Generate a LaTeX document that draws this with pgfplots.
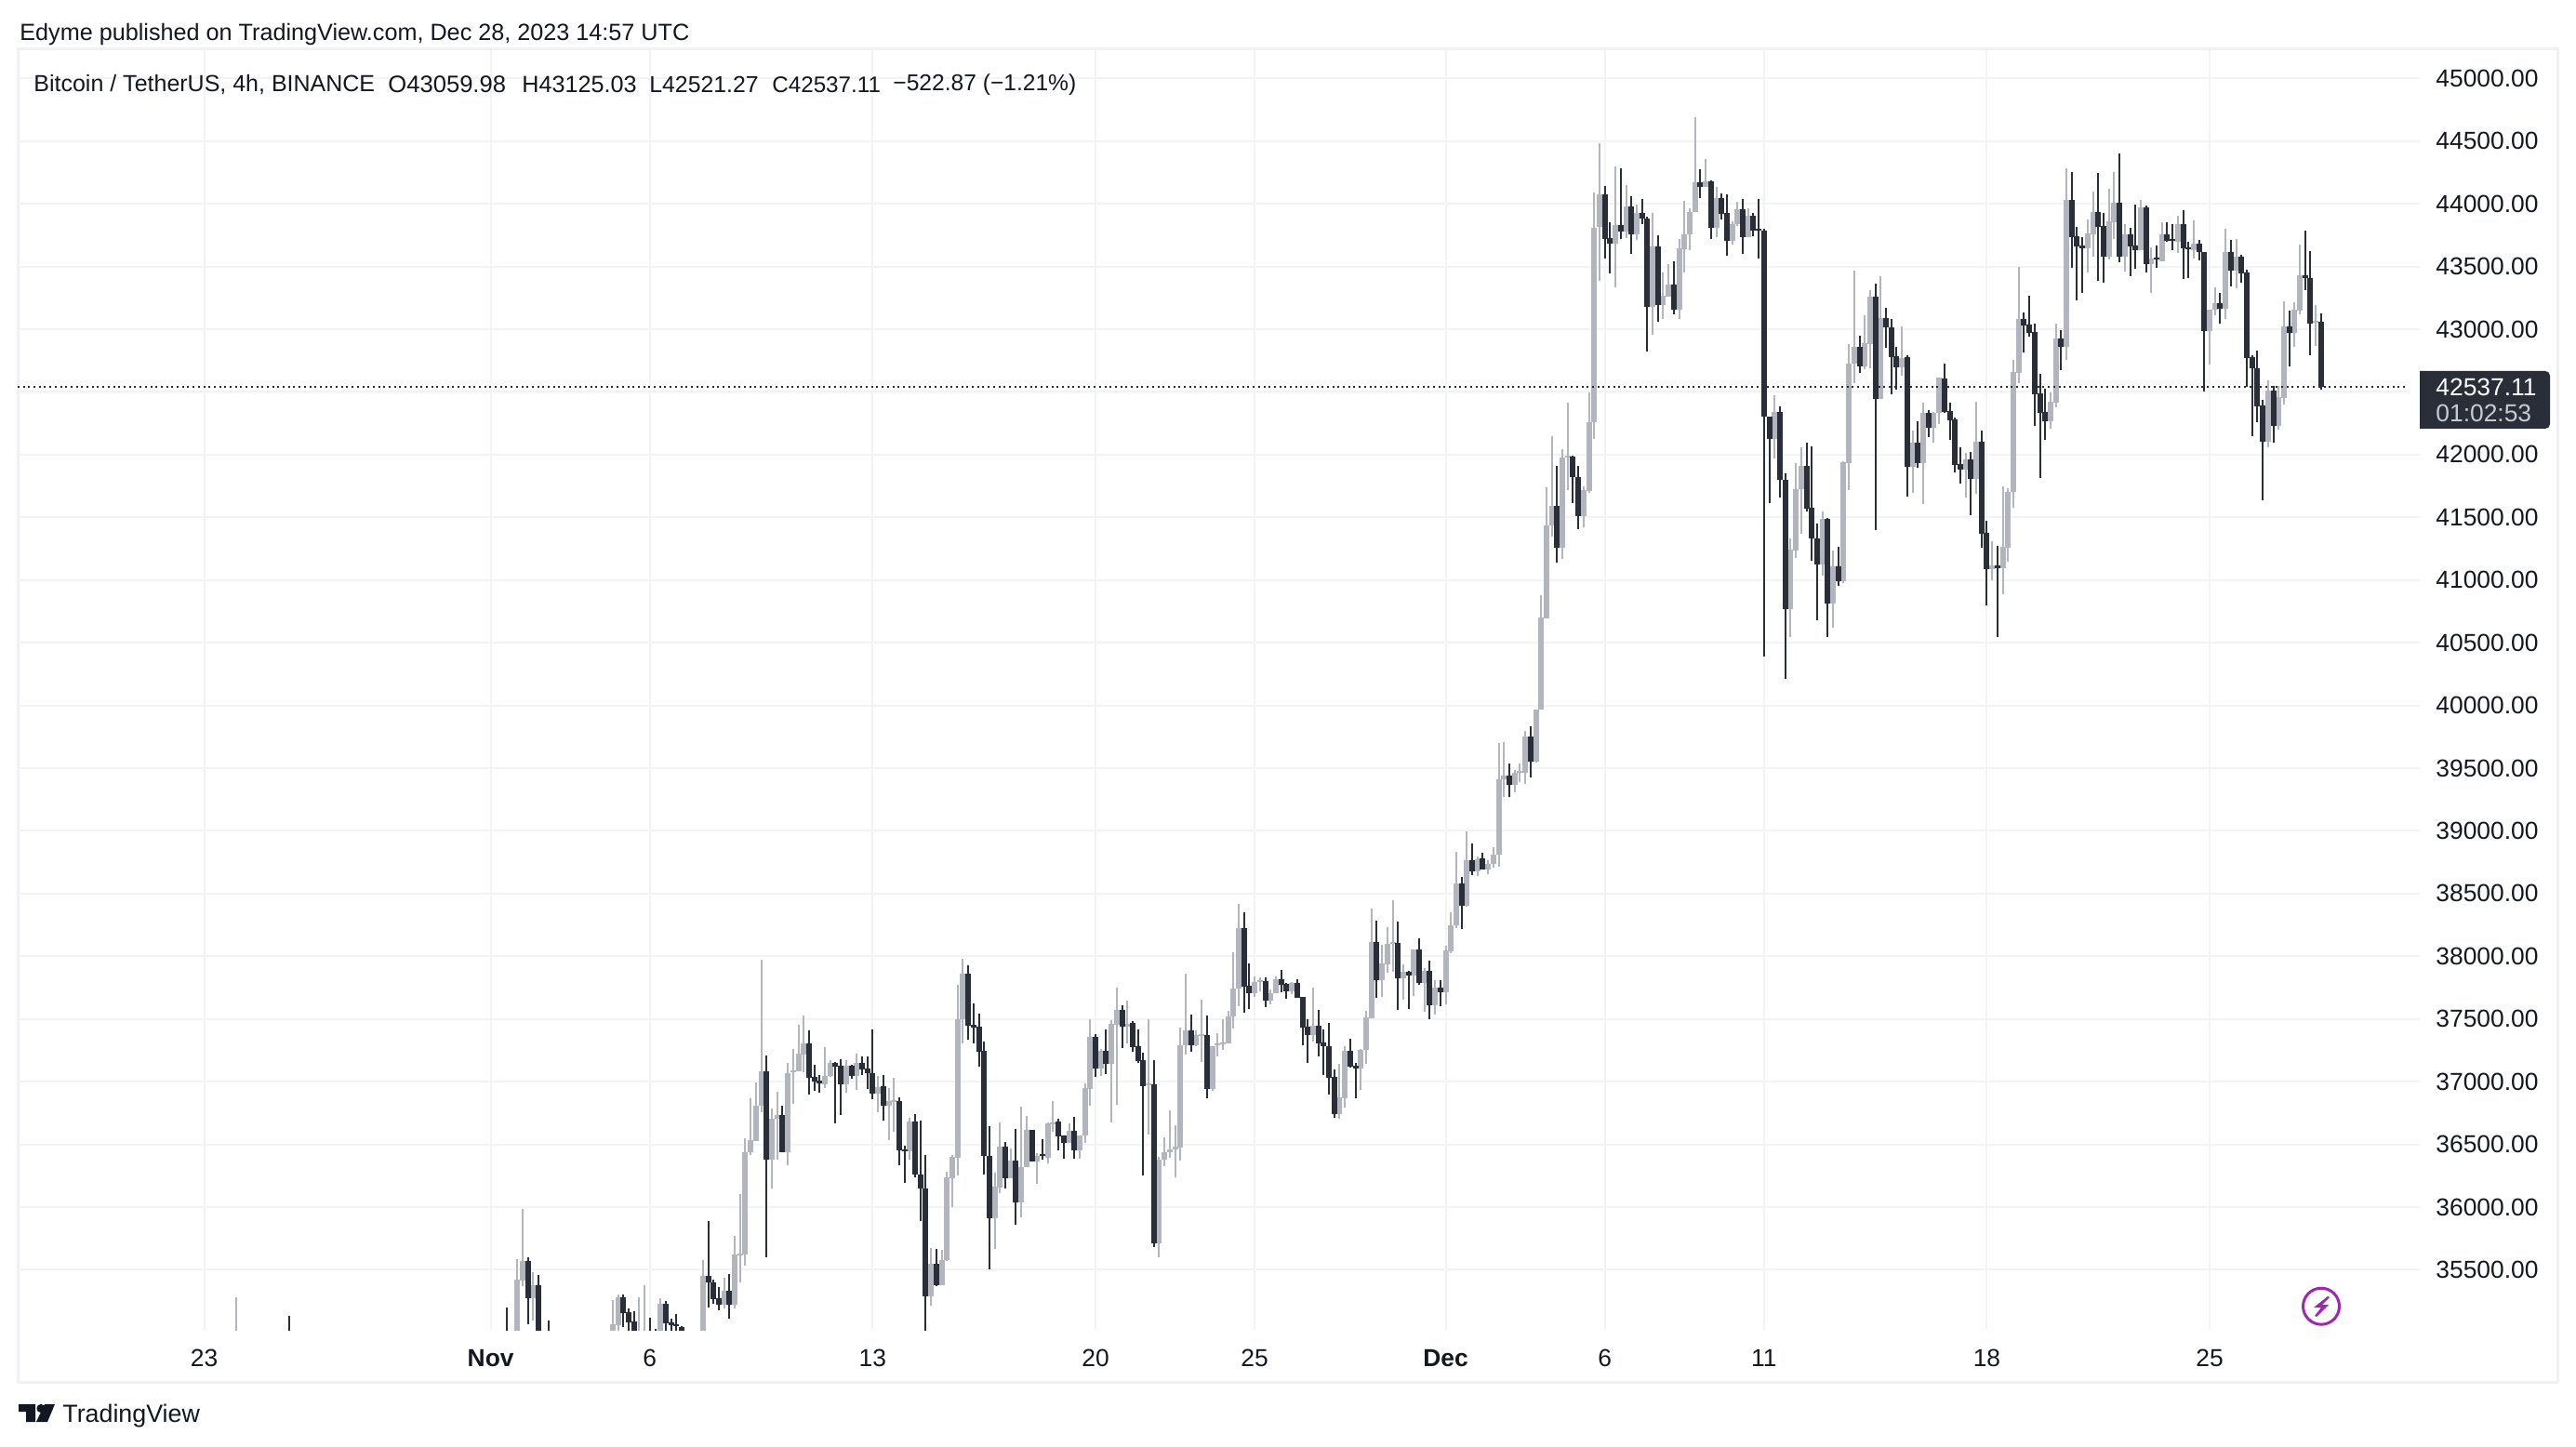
\documentclass[border=0pt]{standalone}
\usepackage{fontspec}
\usepackage{pgfplots}
\usepackage{pgfplotstable}
\pgfplotsset{compat=1.18}
\setmainfont{Liberation Sans}
\definecolor{upc}{HTML}{B2B5BE}
\definecolor{dnc}{HTML}{2A2E39}
\definecolor{gridc}{HTML}{F2F3F5}
\definecolor{framec}{HTML}{F0F0F5}
\definecolor{textc}{HTML}{131722}
\definecolor{boltc}{HTML}{9C27B0}
\pgfplotstableread{
n o h l c
6 34800 35281 34750 34900
59 34900 35585 34800 35422
60 35417 35986 35368 35570
62 35274 35479 35096 35378
77 34900 35259 34850 35066
78 35059 35301 34950 35279
82 34900 35281 34850 34950
83 34900 35375 34850 34950
86 34980 35274 34900 35229
94 34900 35575 34850 35452
98 35224 35437 35190 35331
100 35224 35771 35190 35622
101 35622 36102 35398 35627
102 35620 36547 35536 36436
103 36436 36868 36418 36534
104 36529 36994 36529 36809
105 36806 37973 36757 37083
107 36381 36787 36146 36702
108 36702 36920 36381 36735
110 36436 37147 36332 37068
111 37073 37264 36826 37088
112 37083 37451 37083 37224
113 37217 37526 37073 37306
117 36982 37276 36950 37048
118 37048 37172 37036 37152
121 36982 37172 36915 37128
123 37048 37226 36937 37152
127 36908 37048 36759 36957
129 36806 36950 36537 36846
130 36841 37031 36604 36851
133 36443 36710 36381 36683
137 35289 35674 35214 35548
139 35378 35659 35378 35575
140 35575 36282 35570 36238
141 36233 36413 36003 36401
142 36396 37773 36253 37498
143 37498 37980 37308 37859
149 35912 36275 35669 36164
150 36159 36675 36109 36480
152 36233 36468 36233 36369
154 36040 36801 35917 36317
155 36317 36727 36317 36616
157 36366 36431 36183 36411
159 36396 36678 36352 36668
160 36663 36846 36604 36678
163 36515 36665 36510 36609
165 36450 36569 36389 36569
166 36569 36987 36515 36950
167 36945 37498 36806 37357
169 37105 37259 37044 37246
171 37142 37493 36678 37461
172 37456 37750 36818 37572
174 37439 37646 37308 37463
178 36974 37498 36578 36986
180 35711 36400 35600 36376
181 36376 36559 36326 36438
182 36435 36771 36393 36462
183 36460 36653 36240 36480
184 36475 37429 36373 37290
185 37290 37861 37216 37406
187 37290 37406 37283 37369
188 37364 37654 37159 37379
190 36942 37283 36924 37283
191 37290 37387 37204 37305
192 37295 37498 37253 37310
193 37305 37562 37305 37518
194 37518 38032 37426 37740
195 37740 38417 37604 38225
198 37706 37839 37678 37794
199 37794 37832 37720 37807
201 37644 37735 37617 37703
202 37703 37839 37703 37819
205 37720 37797 37701 37790
209 37374 37750 37320 37443
214 36744 37142 36707 36875
215 36870 37283 36796 37246
218 37102 37263 36937 37256
219 37251 37562 37142 37513
220 37508 38380 37508 38113
222 37812 38094 37678 37943
223 37938 38232 37871 38096
224 38099 38447 37876 38111
226 37827 37935 37654 37876
228 37846 38054 37683 38054
230 37790 37906 37560 37883
232 37612 37809 37537 37750
234 37715 38084 37617 38047
235 38042 38351 38027 38247
236 38244 38833 38222 38580
238 38403 38996 38395 38766
240 38679 38795 38642 38776
242 38692 38766 38657 38739
243 38739 38870 38709 38808
244 38808 39698 38712 39410
245 39410 39705 39273 39438
247 39366 39482 39309 39464
248 39464 39536 39392 39474
249 39464 39795 39374 39752
251 39554 39964 39546 39964
252 39964 40878 39964 40698
253 40695 41739 40695 41436
254 41436 42146 41343 41591
256 41260 42045 41166 41976
257 41980 42416 41714 41991
260 41512 41750 41418 41714
261 41706 42495 41692 42261
262 42257 44090 42128 43812
263 43812 44486 43388 44072
266 43683 44295 43334 43834
268 43780 44147 43730 43982
270 43755 43992 43712 43928
273 43175 43924 42956 43658
275 43190 43449 43082 43269
276 43262 43521 43262 43359
278 43154 43722 43082 43647
279 43640 44025 43452 43758
280 43755 43967 43632 43938
281 43935 44694 43935 44169
283 44136 44356 44136 44176
285 43809 44133 43737 44043
288 43704 43863 43676 43838
289 43838 44014 43820 43956
291 43733 43967 43733 43902
296 42124 42477 41973 42340
299 40770 41335 40547 41242
300 41238 41930 41174 41721
301 41721 42055 41372 41912
305 41127 41548 41037 41487
307 40814 41235 40623 41109
309 40990 41944 40979 41937
310 41930 42884 41714 42729
311 42729 43470 42570 42862
313 42700 43110 42678 42891
314 42884 43308 42686 43262
316 42441 43420 42441 43092
320 42693 43020 42628 42772
322 41901 42190 41697 42094
324 41933 42415 41607 42330
326 42216 42341 42097 42335
327 42330 42613 42243 42611
332 41882 42012 41660 41962
334 41808 42420 41686 42102
337 41088 41308 41000 41119
339 41096 41747 40889 41265
340 41260 41731 41149 41705
341 41700 42754 41578 42659
342 42653 43496 42568 43082
348 42266 42494 42208 42420
349 42415 43045 42380 42926
351 42860 44282 42757 44031
355 43647 43877 43456 43763
356 43758 44097 43580 43935
359 43580 44121 43559 43861
360 43856 44253 43721 44010
362 43580 43837 43461 43755
365 43633 44027 43633 43972
367 43522 43652 43292 43562
369 43543 43851 43543 43755
372 43700 43904 43610 43837
375 43633 43866 43567 43681
378 42987 43154 42717 43154
379 43154 43334 43109 43207
381 43162 43800 43082 43612
383 43469 43718 43329 43578
389 42105 42590 42062 42510
391 42232 42545 42200 42457
392 42452 43220 42402 43021
394 42971 43215 42860 43154
395 43151 43673 43122 43429
398 43056 43191 42868 43064
}\uptable
\pgfplotstableread{
n o h l c
16 34950 35133 34850 34900
57 34900 35200 34700 34800
61 35570 35600 35066 35274
63 35378 35459 34850 34950
65 34950 35096 34850 34900
79 35279 35301 35046 35155
80 35163 35190 34950 35084
81 35086 35170 34900 34950
84 34980 35116 34900 34950
85 34990 35032 34900 34950
87 35227 35252 34950 35076
88 35079 35108 34950 35059
89 35066 35148 34950 35051
90 35041 35051 34950 34980
95 35452 35887 35200 35398
96 35398 35422 35232 35269
97 35274 35363 35175 35224
99 35331 35467 35108 35224
106 37083 37209 35603 36381
109 36735 36809 36436 36436
114 37306 37407 36900 37034
115 37036 37133 36925 37004
116 37009 37053 36913 36984
119 37152 37160 36670 37123
120 37128 37177 36737 36982
122 37128 37135 37024 37048
124 37152 37202 37053 37098
125 37103 37202 36945 37068
126 37068 37417 36858 36908
128 36962 37053 36693 36806
131 36846 36875 36337 36455
132 36460 36490 36196 36443
134 36683 36742 36238 36258
135 36258 36690 35892 36146
136 36146 36416 34950 35289
138 35548 35664 35368 35378
144 37859 37926 37338 37449
145 37454 37622 37308 37434
146 37439 37543 37123 37241
147 37246 37320 36263 36406
148 36406 36646 35504 35912
151 36480 36517 36151 36233
153 36369 36621 35862 36040
156 36616 36616 36366 36366
158 36421 36542 36381 36411
161 36683 36702 36450 36567
162 36569 36574 36389 36515
164 36609 36717 36389 36450
168 37357 37377 37041 37105
170 37246 37414 37063 37142
173 37572 37609 37270 37439
175 37468 37483 37241 37275
176 37280 37416 37152 37167
177 37172 37231 36255 36966
179 36979 37172 35680 35711
186 37406 37532 37241 37290
189 37372 37525 36870 36942
196 38225 38351 37552 37760
197 37762 37943 37582 37706
200 37802 37832 37597 37649
203 37819 37893 37715 37775
204 37780 37790 37661 37720
206 37790 37817 37671 37671
207 37673 37673 37290 37431
208 37436 37498 37152 37374
210 37443 37572 37204 37308
211 37310 37416 37055 37280
212 37280 37468 36900 37033
213 37036 37097 36714 36744
216 37246 37342 37110 37122
217 37127 37147 36870 37102
221 38113 38284 37671 37812
225 38106 38276 37575 37827
227 37876 37883 37582 37846
229 38054 38143 37770 37790
231 37883 37965 37500 37612
233 37750 37809 37604 37715
237 38580 38632 38220 38403
239 38766 38899 38650 38679
241 38778 38825 38692 38692
246 39438 39539 39273 39366
250 39752 39831 39428 39554
255 41591 41912 41138 41260
258 41984 41991 41613 41818
259 41822 41912 41407 41512
264 44072 44144 43560 43722
265 43730 43856 43442 43683
267 43834 44280 43719 43780
269 43982 44064 43600 43755
271 43924 44039 43838 43881
272 43881 43895 42819 43175
274 43658 43748 43056 43190
277 43359 43542 43118 43154
282 44169 44277 44046 44136
284 44176 44187 43719 43809
286 44043 44079 43874 43920
287 43924 44075 43586 43704
290 43956 44039 43600 43733
292 43902 43928 43744 43787
293 43794 44039 43564 43787
294 43787 43802 40392 42300
295 42304 42304 41616 42124
297 42340 42383 41656 41796
298 41800 41847 40212 40770
302 41912 42092 41544 41570
303 41577 42063 41156 41335
304 41335 41447 40677 41127
306 41490 41498 40547 40814
308 41109 41267 40950 40990
312 42862 42945 42650 42700
315 43262 43366 41397 42441
317 43092 43168 42848 43013
318 43013 43078 42480 42779
319 42786 42862 42516 42693
321 42780 42791 41668 41901
323 42094 42266 41898 41933
325 42330 42354 42142 42216
328 42606 42725 42333 42343
329 42351 42415 42118 42274
330 42277 42293 41859 41919
331 41922 42057 41771 41882
333 41962 42020 41514 41808
335 42102 42190 41255 41371
336 41374 41472 40799 41088
338 41119 41270 40547 41096
343 43082 43133 42817 43032
344 43037 43268 42939 42971
345 42976 43045 42232 42484
346 42486 42643 41816 42335
347 42338 42526 42121 42266
350 42926 42990 42677 42860
352 44031 44253 43493 43737
353 43739 43816 43233 43660
354 43665 43737 43289 43647
357 43935 44245 43382 43819
358 43824 43925 43374 43580
361 44010 44402 43535 43580
363 43755 43806 43421 43662
364 43668 43994 43485 43633
366 43972 43986 43456 43522
368 43570 43668 43493 43559
370 43755 43851 43697 43702
371 43713 43837 43633 43705
373 43837 43949 43403 43647
374 43652 43694 43411 43636
376 43681 43710 43551 43612
377 43615 43615 42505 42987
380 43207 43289 43048 43164
382 43612 43710 43342 43469
384 43578 43591 43368 43448
385 43453 43472 42542 42772
386 42775 42796 42150 42685
387 42688 42828 42256 42386
388 42391 42436 41639 42105
390 42510 42545 42097 42232
393 43021 43149 42706 42971
396 43429 43787 43308 43406
397 43408 43620 42794 43048
399 43059.98 43125.03 42521.27 42537.11
}\downtable
\newcommand{\fs}[1]{\fontsize{#1}{#1}\selectfont}
\begin{document}
\begin{tikzpicture}
\path[use as bounding box] (0pt,0pt) rectangle (1385pt,-778pt);
\fill[white] (0pt,0pt) rectangle (1385pt,-778pt);
\begin{scope}[x=0.5pt,y=-0.5pt]
\draw[framec,line width=1.5pt] (19,53) rectangle (2750,1486);
\end{scope}
\begin{axis}[
  at={(9.5pt,-715pt)},anchor=south west,
  scale only axis,width=1291.5pt,height=688.5pt,
  xmin=-35.16,xmax=417.6,ymin=35021,ymax=45232,
  axis line style={draw=none},
  tick style={draw=none},major tick length=0pt,
  grid=major,grid style={gridc,line width=1pt},
  xtick={0,54,84,126,168,198,234,264,294,336,378},
  xticklabels={23,\textbf{Nov},6,13,20,25,\textbf{Dec},6,11,18,25},
  ytick={35500,36000,36500,37000,37500,38000,38500,39000,39500,40000,40500,41000,41500,42000,43000,43500,44000,44500,45000},
  extra y ticks={42500},extra y tick labels={},
  extra tick style={grid=major,grid style={gridc,line width=1pt},tick style={draw=none},major tick length=0pt},
  scaled y ticks=false,scaled x ticks=false,
  yticklabel pos=right,
  y tick label style={anchor=west,inner sep=0pt,xshift=8.5pt,text=textc,font=\fs{13.2}},
  x tick label style={anchor=north,inner sep=0pt,yshift=-10.5pt,text=textc,font=\fs{13.2}},
  /pgf/number format/.cd,fixed,fixed zerofill,precision=2,1000 sep={},assume math mode=true,
]
\addplot[draw=none,no markers,error bars/.cd,y dir=both,y explicit,error mark=none,error bar style={draw=upc,line width=1pt}]
  table[x=n,y expr={(\thisrow{h}+\thisrow{l})/2},y error expr={(\thisrow{h}-\thisrow{l})/2}]{\uptable};
\addplot[draw=none,no markers,error bars/.cd,y dir=both,y explicit,error mark=none,error bar style={draw=dnc,line width=1pt}]
  table[x=n,y expr={(\thisrow{h}+\thisrow{l})/2},y error expr={(\thisrow{h}-\thisrow{l})/2}]{\downtable};
\addplot[draw=none,no markers,error bars/.cd,y dir=both,y explicit,error mark=none,error bar style={draw=upc,line width=3pt}]
  table[x=n,y expr={(\thisrow{o}+\thisrow{c})/2},y error expr={max(abs(\thisrow{o}-\thisrow{c})/2,7)}]{\uptable};
\addplot[draw=none,no markers,error bars/.cd,y dir=both,y explicit,error mark=none,error bar style={draw=dnc,line width=3pt}]
  table[x=n,y expr={(\thisrow{o}+\thisrow{c})/2},y error expr={max(abs(\thisrow{o}-\thisrow{c})/2,7)}]{\downtable};
\addplot[dnc,line width=1pt,dash pattern=on 1pt off 1.85pt] coordinates {(-35.16,42537.11) (417.6,42537.11)};
\end{axis}
\begin{scope}[x=0.5pt,y=-0.5pt,every node/.style={inner sep=0pt,text=textc}]
\node[anchor=west,font=\fs{12.6}] at (21,37) {Edyme published on TradingView.com, Dec 28, 2023 14:57 UTC};
\node[anchor=west,font=\fs{12.5}] at (36,91) {Bitcoin / TetherUS, 4h, BINANCE};
\node[anchor=west,font=\fs{12.8}] at (417,91) {O43059.98};
\node[anchor=west,font=\fs{12.6}] at (561,91) {H43125.03};
\node[anchor=west,font=\fs{12.4}] at (698,91) {L42521.27};
\node[anchor=west,font=\fs{12.1}] at (830,91) {C42537.11};
\node[anchor=west,font=\fs{12.3}] at (960,91) {−522.87 (−1.21\%)};
% price tag
\fill[dnc,rounded corners=2.5pt] (2596,399) rectangle (2742,461);
\fill[dnc] (2602,399) rectangle (2620,461);
\fill[white] (2590,395) rectangle (2602,465);
\node[anchor=west,font=\fs{13.2},text=white] at (2619,416) {42537.11};
\node[anchor=west,font=\fs{13.2},text=upc!70!white] at (2619,444) {01:02:53};
% bolt
\draw[boltc,line width=1.5pt] (2496,1404.7) circle (19.5);
\fill[boltc] (2503,1394) -- (2488,1406) -- (2496,1406) -- (2489,1415) -- (2491,1416) -- (2504,1403) -- (2497,1403) -- (2505,1395) -- cycle;
% logo
\fill[textc] (20,1510) -- (38,1510) -- (38,1529) -- (28,1529) -- (28,1518) -- (20,1518) -- cycle;
\fill[textc] (44,1514.5) circle (4.6);
\fill[textc] (48,1510) -- (59,1510) -- (51,1529) -- (39,1529) -- cycle;
\node[anchor=west,font=\fs{13.4}] at (67,1523) {TradingView};
\end{scope}
\end{tikzpicture}
\end{document}
